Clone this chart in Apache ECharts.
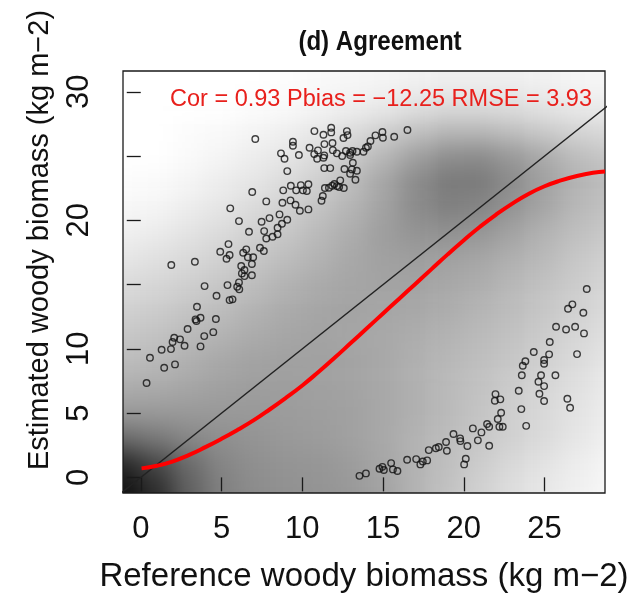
<!DOCTYPE html>
<html><head><meta charset="utf-8">
<script src="https://cdn.jsdelivr.net/npm/echarts@6/dist/echarts.min.js"></script>
<style>
html,body{margin:0;padding:0;background:#fff;}
#clip{position:absolute;left:123px;top:71px;width:482px;height:422px;overflow:hidden;}
#dens{position:absolute;left:-123px;top:-71px;width:700px;height:640px;filter:blur(11px);}
#main{position:absolute;left:0;top:0;width:636px;height:594px;}
</style></head><body>
<div id="clip"><div id="dens"></div></div>
<div id="main"></div>
<script>
// ---------- data ----------
const titleText = '(d) Agreement';
const statsText = 'Cor = 0.93 Pbias = \u221212.25 RMSE = 3.93';
const xTitle = 'Reference woody biomass (kg m\u22122)';
const yTitle = 'Estimated woody biomass (kg m\u22122)';
const xTicks = [0, 5, 10, 15, 20, 25];
const yTicks = [0, 5, 10, 15, 20, 25, 30];
const yTickLabels = [0, 5, 10, 20, 30];

// sparse points (reference, estimated) - upper-left cluster
const upperPts = [
[7.09,26.32],[9.42,26.11],[9.42,25.80],[8.68,25.21],[8.90,24.79],[9.79,25.08],[9.07,23.83],[9.29,22.69],[9.91,22.74],[9.62,22.33],[10.04,22.33],[6.90,22.20],[8.82,22.33],[7.77,21.47],[8.77,21.36],[9.27,21.55],[9.58,21.21],[9.85,20.74],[5.54,20.93],[8.59,20.46],[6.08,19.94],[7.48,19.89],[7.97,20.17],[9.07,20.04],[8.74,19.73],
[10.75,26.94],[11.79,27.20],[11.79,26.84],[11.31,26.66],[12.76,26.94],[12.80,26.63],[12.55,26.40],[11.87,26.01],[11.37,25.93],[10.45,25.64],[10.97,25.44],[10.74,25.15],[10.92,24.79],[11.36,25.05],[11.31,24.87],[11.89,25.46],[12.14,25.21],[12.47,25.00],[12.70,25.39],[12.96,25.25],[13.11,25.39],[13.38,25.33],[12.96,25.08],[13.79,25.33],[13.94,25.64],[14.06,25.75],[14.22,26.17],[14.53,26.61],[14.96,26.87],[14.99,26.42],[15.69,26.50],[16.51,27.02],[11.36,24.06],[11.73,24.06],[12.61,23.99],[13.13,24.48],[13.07,23.96],[13.38,23.85],[12.96,23.62],[13.29,23.15],[12.35,23.11],[11.99,22.82],[11.85,22.69],[12.14,22.66],[11.65,22.53],[11.40,22.51],[12.57,22.51],[12.28,22.59],[10.38,22.80],[10.28,22.28],[11.27,21.89],[11.19,21.52],[10.38,20.85],
[6.70,19.11],[7.64,19.16],[8.47,19.42],[8.47,18.91],[8.16,18.72],[7.77,18.59],[5.43,18.15],[4.92,17.55],[5.50,17.30],[5.31,17.01],[6.53,17.74],[6.34,17.47],[6.63,17.12],[6.96,17.12],[7.38,17.86],[7.62,17.61],[6.88,16.60],[6.22,16.44],[6.42,16.13],[6.26,15.87],[6.42,15.66],[6.88,15.72],[1.89,16.52],[3.35,16.77],[3.95,14.88],[5.37,14.96],[6.08,15.17],[5.97,14.83],[6.10,14.63],[4.69,14.13],[5.50,13.79],[5.68,13.85],[3.48,13.27],
[3.39,12.29],[3.45,12.16],[3.70,12.42],[4.65,12.32],[2.90,11.54],[2.07,10.86],[2.43,10.74],[1.97,10.53],[2.71,10.24],[1.87,9.98],[1.29,9.93],[3.93,10.99],[4.49,11.30],[3.70,10.19],[0.57,9.31],[2.12,8.79],[1.45,8.53],[0.36,7.34]
];
// sparse points - lower-right cluster
const lowerPts = [
[13.54,0.12],[13.94,0.31],[14.78,0.67],[14.96,0.82],[15.05,0.57],[15.50,1.11],[15.61,0.62],[15.89,0.49],[16.49,1.37],[17.05,1.42],[17.31,1.01],[17.46,1.24],[17.73,1.32],[17.83,2.12],[18.27,2.26],[18.45,2.36],[18.90,2.75],[18.95,2.07],[19.36,3.37],[19.77,3.03],[19.79,2.82],[20.22,2.44],[20.12,1.45],[20.02,1.01],[20.56,3.81],[20.87,2.88],[21.09,3.50],
[21.44,4.15],[21.57,3.94],[21.57,2.46],[22.10,4.54],[22.20,3.94],[22.41,3.94],[23.86,4.01],
[27.61,14.65],[26.72,13.46],[26.45,13.12],[27.40,12.81],[25.71,11.72],[26.33,11.51],[26.89,11.72],[27.44,11.20],[25.32,10.53],[24.33,9.75],[25.28,9.57],[27.01,9.59],[23.81,9.03],[23.65,8.68],[24.97,9.13],[24.97,8.84],[23.59,7.94],[24.78,7.94],[25.67,7.94],[24.62,7.44],[24.97,7.10],[23.40,6.74],[24.68,6.50],[21.96,6.48],[21.92,5.96],[22.26,6.07],[24.97,5.94],[26.41,6.12],[26.58,5.42],[23.56,5.31],[22.31,5.03]
];

// fitted (red) curve
const curveRef = [0.05,1,2,3,4,5,6,7,8,9,10,11,12,13,14,15,16,17,18,19,20,21,22,23,24,25,26,27,28,28.74];
const curveEst = [0.7,0.9,1.25,1.75,2.35,3.0,3.7,4.45,5.3,6.2,7.15,8.2,9.3,10.45,11.6,12.75,13.9,15.05,16.2,17.35,18.45,19.5,20.45,21.3,22.05,22.65,23.1,23.45,23.7,23.8];

// 1:1 line ends
const identityEnds = [-5, 35];

// smoothed density (darkness 0..100), cell centres, rows from top (y=33) to bottom (y=-3)
const densityX = [-3,-1,1,3,5,7,9,11,13,15,17,19,21,23,25,27,29,31];
const densityY = [-3,-1,1,3,5,7,9,11,13,15,17,19,21,23,25,27,29,31,33];
const densityRows = [
[0,0,0,0,0,0,1,2,3,4,5,6,6,6,5,4,3,3],
[0,0,0,0,0,0,1,2,3,4,5,6,6,6,5,4,3,3],
[0,0,0,0,0,1,2,4,6,8,11,13,13,12,10,8,7,7],
[0,0,0,1,2,4,6,9,13,18,23,27,27,24,20,16,14,14],
[0,0,0,2,4,7,10,14,20,28,37,44,45,40,33,26,22,22],
[1,1,2,4,7,10,14,19,26,35,45,52,52,45,37,30,26,26],
[3,3,4,7,10,14,18,23,29,36,45,50,48,42,35,28,24,24],
[6,6,8,11,14,18,22,27,32,38,42,43,41,36,30,25,21,21],
[10,10,12,15,18,22,26,30,34,37,38,37,35,31,27,22,18,18],
[14,14,16,19,22,26,30,33,35,36,36,34,32,28,24,20,16,16],
[18,18,20,23,26,30,33,35,36,35,34,32,29,26,22,18,14,14],
[22,22,24,27,30,33,35,36,35,34,32,30,27,24,20,16,12,12],
[26,26,28,31,34,36,37,37,36,34,31,28,25,22,18,14,10,10],
[32,32,33,35,37,38,38,37,36,34,31,27,24,20,16,12,8,8],
[40,40,40,40,40,40,39,38,37,34,31,27,23,19,15,11,7,7],
[58,58,53,47,44,42,40,39,37,34,30,26,22,18,14,10,6,6],
[84,84,72,58,48,44,42,41,39,35,30,25,20,15,11,7,4,4],
[93,93,82,62,50,45,43,42,40,36,30,24,18,13,9,6,3,3],
[93,93,82,62,50,45,43,42,40,36,30,24,18,13,9,6,3,3]
];

// ---------- layout ----------
const xRange = [-1.1, 28.74];
const yRange = [-1.216, 31.616];
const plot = {left: 123, top: 71, width: 482, height: 422};
const FONT = '"Liberation Sans", Arial, Helvetica, sans-serif';

// ---------- density layer (blurred underneath) ----------
const pxX = v => plot.left + (v - xRange[0]) / (xRange[1] - xRange[0]) * plot.width;
const pxY = v => plot.top + (yRange[1] - v) / (yRange[1] - yRange[0]) * plot.height;
const cellW = densityX[1] - densityX[0];
const cellH = densityY[1] - densityY[0];
const hx0 = pxX(densityX[0] - cellW / 2), hx1 = pxX(densityX[densityX.length - 1] + cellW / 2);
const hyTop = pxY(densityY[densityY.length - 1] + cellH / 2), hyBot = pxY(densityY[0] - cellH / 2);
const hmData = [];
densityRows.forEach((row, r) => {
  const yi = densityY.length - 1 - r;
  row.forEach((v, c) => hmData.push([c, yi, v]));
});
const dens = echarts.init(document.getElementById('dens'));
dens.setOption({
  animation: false,
  grid: {left: hx0, top: hyTop, width: hx1 - hx0, height: hyBot - hyTop, outerBoundsMode: 'none', containLabel: false},
  xAxis: {type: 'category', data: densityX.map(String), show: false},
  yAxis: {type: 'category', data: densityY.map(String), show: false},
  visualMap: {show: false, min: 0, max: 100, seriesIndex: 0, inRange: {color: ['#ffffff', '#000000']}},
  series: [{type: 'heatmap', data: hmData, itemStyle: {borderWidth: 0}, emphasis: {disabled: true}, silent: true}]
});

// ---------- main chart ----------
const chart = echarts.init(document.getElementById('main'));
const ptStyle = {color: 'rgba(0,0,0,0)', borderColor: '#111', borderWidth: 1.4};
chart.setOption({
  backgroundColor: 'transparent',
  animation: false,
  grid: {left: plot.left, top: plot.top, width: plot.width, height: plot.height, show: true,
         outerBoundsMode: 'none', containLabel: false,
         borderColor: '#1a1a1a', borderWidth: 1.3, backgroundColor: 'transparent'},
  xAxis: {
    type: 'value', min: xRange[0], max: xRange[1],
    splitLine: {show: false}, axisLine: {show: false},
    axisTick: {show: true, length: 14, customValues: xTicks, lineStyle: {color: '#1a1a1a', width: 1.3}},
    axisLabel: {customValues: xTicks, fontSize: 31, color: '#111', margin: 21, fontFamily: FONT},
    name: xTitle, nameLocation: 'middle', nameGap: 67,
    nameTextStyle: {fontSize: 33, color: '#111', fontFamily: FONT}
  },
  yAxis: {
    type: 'value', min: yRange[0], max: yRange[1],
    splitLine: {show: false}, axisLine: {show: false},
    axisTick: {show: true, length: 14, customValues: yTicks, lineStyle: {color: '#1a1a1a', width: 1.3}},
    axisLabel: {customValues: yTickLabels, fontSize: 31, color: '#111', margin: 28, rotate: 90, fontFamily: FONT}
  },
  graphic: [
    {type: 'text', x: 380, y: 42, z: 10, scaleX: 0.86,
     style: {text: titleText, fill: '#111', font: 'bold 28px ' + FONT, align: 'center', verticalAlign: 'middle', textAlign: 'center', textVerticalAlign: 'middle'}},
    {type: 'text', x: 592, y: 100, z: 10,
     style: {text: statsText, fill: '#e8201c', font: '23.5px ' + FONT, align: 'right', verticalAlign: 'middle', textAlign: 'right', textVerticalAlign: 'middle'}},
    {type: 'text', x: 40, y: 240, rotation: Math.PI / 2, z: 10,
     style: {text: yTitle, fill: '#111', font: '29px ' + FONT, align: 'center', verticalAlign: 'middle', textAlign: 'center', textVerticalAlign: 'middle'}}
  ],
  series: [
    {type: 'scatter', data: upperPts, symbol: 'circle', symbolSize: 6.5, itemStyle: ptStyle, silent: true, z: 3},
    {type: 'scatter', data: lowerPts, symbol: 'circle', symbolSize: 6.5, itemStyle: ptStyle, silent: true, z: 3},
    {type: 'line', data: identityEnds.map(v => [v, v]), showSymbol: false, symbol: 'none', clip: true,
     lineStyle: {color: '#222', width: 1.3}, silent: true, z: 4},
    {type: 'line', data: curveRef.map((v, i) => [v, curveEst[i]]), showSymbol: false, symbol: 'none', smooth: true, clip: true,
     lineStyle: {color: '#ff0000', width: 4}, silent: true, z: 5}
  ]
});
</script></body></html>
